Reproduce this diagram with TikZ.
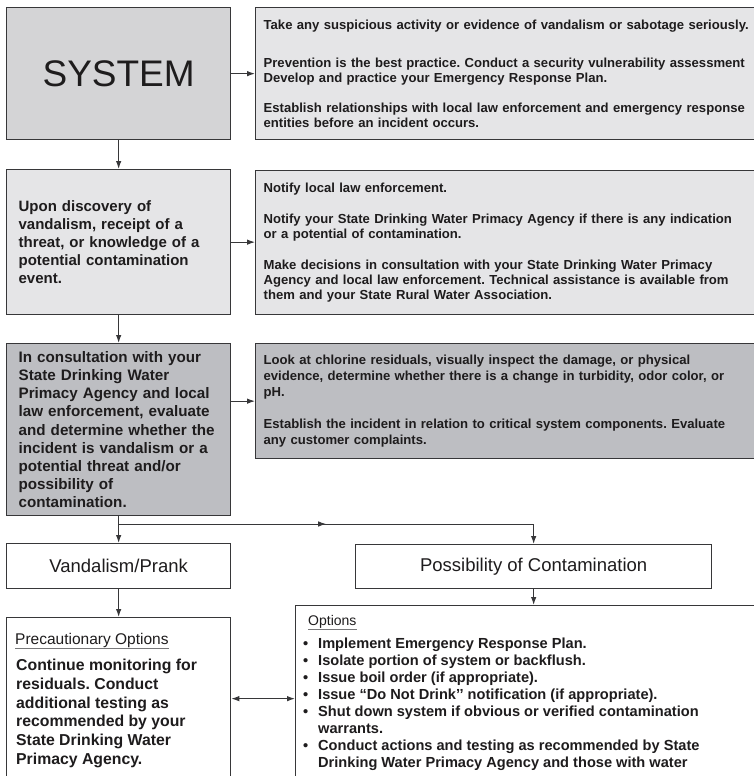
\documentclass[tikz,border=0pt]{standalone}
\usepackage{fontspec}
\setmainfont{Liberation Sans}
\usetikzlibrary{arrows.meta,calc}
\frenchspacing

\definecolor{ink}{RGB}{30,28,29}
\definecolor{edge}{RGB}{55,55,57}
\definecolor{greyA}{RGB}{212,212,214}
\definecolor{greyB}{RGB}{229,229,231}
\definecolor{greyC}{RGB}{189,190,194}
\definecolor{rulegrey}{RGB}{120,120,122}

\begin{document}
\begin{tikzpicture}[x=1pt,y=-1pt,
  box/.style={draw=edge, line width=1.3pt, anchor=north west, inner sep=0pt,
              text=ink, align=left},
  leftbox/.style={box, minimum width=224pt, text width=200pt},
  rightbox/.style={box, minimum width=525pt, text width=509pt,
                   font=\fontsize{13.1}{15}\selectfont\bfseries},
  plain/.style={inner sep=0pt, text=ink, align=left},
  link/.style={draw=edge, line width=1pt, -{Latex[length=8pt,width=5.5pt]}},
  twoway/.style={draw=edge, line width=1pt, {Latex[length=8pt,width=5.5pt]}-{Latex[length=8pt,width=5.5pt]}},
  wire/.style={draw=edge, line width=1pt},
  hrule/.style={draw=rulegrey, line width=0.8pt}]

\useasboundingbox (0,0) rectangle (754,776);
\clip (0,0) rectangle (754,776);

% ---- row 1 ----
\node[box, fill=greyA, minimum width=224pt, minimum height=132pt,
      font=\fontsize{37}{40}\selectfont] (sys) at (6,7) {SYSTEM};
\node[rightbox, fill=greyB, minimum height=132pt] (r1) at (255,7)
  {Take any suspicious activity or evidence of vandalism or sabotage seriously.\\[23pt]
   Prevention is the best practice. Conduct a security vulnerability assessment\\
   Develop and practice your Emergency Response Plan.\\[15pt]
   Establish relationships with local law enforcement and emergency response\\
   entities before an incident occurs.};

% ---- row 2 ----
\node[leftbox, fill=greyB, minimum height=145pt,
      font=\fontsize{15}{17.9}\selectfont\bfseries] (dis) at (6,169)
  {Upon discovery of\\
   vandalism, receipt of a\\
   threat, or knowledge of a\\
   potential contamination\\
   event.};
\node[rightbox, fill=greyB, minimum height=144pt] (r2) at (255,170)
  {Notify local law enforcement.\\[16pt]
   Notify your State Drinking Water Primacy Agency if there is any indication\\
   or a potential of contamination.\\[16pt]
   Make decisions in consultation with your State Drinking Water Primacy\\
   Agency and local law enforcement. Technical assistance is available from\\
   them and your State Rural Water Association.};

% ---- row 3 ----
\node[leftbox, fill=greyC, minimum height=172pt,
      font=\fontsize{15.2}{18.1}\selectfont\bfseries] (eva) at (6,343)
  {In consultation with your\\
   State Drinking Water\\
   Primacy Agency and local\\
   law enforcement, evaluate\\
   and determine whether the\\
   incident is vandalism or a\\
   potential threat and/or\\
   possibility of\\
   contamination.};
\node[rightbox, fill=greyC, minimum height=115pt,
      font=\fontsize{13.1}{15.6}\selectfont\bfseries] (r3) at (255,343)
  {Look at chlorine residuals, visually inspect the damage, or physical\\
   evidence, determine whether there is a change in turbidity, odor color, or\\
   pH.\\[17pt]
   Establish the incident in relation to critical system components. Evaluate\\
   any customer complaints.};

% ---- outcomes ----
\node[box, fill=white, minimum width=224pt, minimum height=45pt,
      font=\fontsize{18.5}{20}\selectfont] (van) at (6,543) {Vandalism/Prank};
\node[box, fill=white, minimum width=356pt, minimum height=44pt,
      font=\fontsize{18.5}{20}\selectfont] (pos) at (355,544) {Possibility of Contamination};

% ---- option boxes ----
\node[box, fill=white, minimum width=224pt, minimum height=162pt] (pre) at (6,617) {};
\node[plain, anchor=base west, font=\fontsize{15.5}{18}\selectfont] (prehead)
  at (15,644.5) {Precautionary Options};
\draw[hrule] ([yshift=-3.8pt]prehead.base west) -- ([yshift=-3.8pt]prehead.base east);
\node[plain, anchor=north west, font=\fontsize{15.8}{18.7}\selectfont\bfseries] (pretext)
  at (16,659) {Continue monitoring for\\
   residuals. Conduct\\
   additional testing as\\
   recommended by your\\
   State Drinking Water\\
   Primacy Agency.};

\node[box, fill=white, minimum width=485pt, minimum height=186pt] (opt) at (295,605) {};
\node[plain, anchor=base west, font=\fontsize{14}{16}\selectfont] (opthead)
  at (308,625) {Options};
\draw[hrule] ([yshift=-4.5pt]opthead.base west) -- ([yshift=-4.5pt]opthead.base east);
\node[plain, anchor=north west, font=\fontsize{14.6}{17}\selectfont\bfseries] (opttext)
  at (303,637.5) {\makebox[15pt][l]{\textbullet}Implement Emergency Response Plan.\\
   \makebox[15pt][l]{\textbullet}Isolate portion of system or backflush.\\
   \makebox[15pt][l]{\textbullet}Issue boil order (if appropriate).\\
   \makebox[15pt][l]{\textbullet}Issue “Do Not Drink’’ notification (if appropriate).\\
   \makebox[15pt][l]{\textbullet}Shut down system if obvious or verified contamination\\
   \hspace*{15pt}warrants.\\
   \makebox[15pt][l]{\textbullet}Conduct actions and testing as recommended by State\\
   \hspace*{15pt}Drinking Water Primacy Agency and those with water};

% ---- connectors ----
\draw[link] (sys.east) -- (r1.west);
\draw[link] (sys.south) -- (dis.north);
\draw[link] (dis.east) -- (dis.east -| r2.west);
\draw[link] (dis.south) -- (eva.north);
\draw[link] (r3.west -| eva.east) -- (r3.west);
\draw[link] (eva.south) -- (van.north);
\coordinate (split) at (eva.south |- 0,524);
\coordinate (turn) at (split -| pos.north);
\draw[wire] (split) -- (turn);
\draw[link] (split) -- ($(split)!0.5!(turn)$);
\draw[link] (turn) -- (pos.north);
\draw[link] (van.south) -- (pre.north);
\draw[link] (pos.south) -- (pos.south |- opt.north);
\draw[twoway] (pre.east) -- (opt.west);

\end{tikzpicture}
\end{document}
